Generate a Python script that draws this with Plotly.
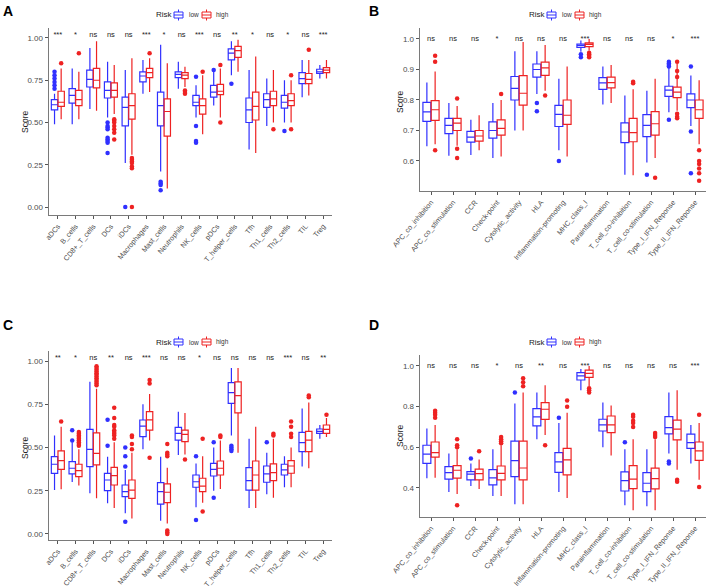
import plotly.graph_objects as go

# ---------------- data ----------------
# rows: (lower whisker, q1, median, q3, upper whisker)
cats_A = ["aDCs", "B_cells", "CD8+_T_cells", "DCs", "iDCs", "Macrophages", "Mast_cells",
          "Neutrophils", "NK_cells", "pDCs", "T_helper_cells", "Tfh", "Th1_cells",
          "Th2_cells", "TIL", "Treg"]
sig_A = ["***", "*", "ns", "ns", "ns", "***", "*", "ns", "***", "ns", "**", "*", "ns", "*", "ns", "***"]
A_low = [(0.49, 0.575, 0.605, 0.635, 0.67), (0.49, 0.615, 0.66, 0.70, 0.82),
         (0.58, 0.71, 0.755, 0.81, 0.94), (0.53, 0.645, 0.69, 0.74, 0.86),
         (0.26, 0.48, 0.59, 0.65, 0.81), (0.67, 0.74, 0.775, 0.80, 0.87),
         (0.21, 0.48, 0.60, 0.68, 0.96), (0.70, 0.765, 0.785, 0.80, 0.86),
         (0.53, 0.60, 0.62, 0.66, 0.72), (0.60, 0.65, 0.68, 0.72, 0.80),
         (0.78, 0.87, 0.91, 0.935, 0.98), (0.34, 0.50, 0.575, 0.645, 0.81),
         (0.48, 0.59, 0.635, 0.67, 0.76), (0.50, 0.585, 0.62, 0.66, 0.75),
         (0.65, 0.73, 0.76, 0.795, 0.87), (0.76, 0.79, 0.80, 0.815, 0.84)]
A_high = [(0.52, 0.595, 0.62, 0.685, 0.82), (0.52, 0.60, 0.635, 0.69, 0.80),
          (0.57, 0.705, 0.75, 0.82, 0.98), (0.55, 0.65, 0.69, 0.735, 0.84),
          (0.31, 0.52, 0.60, 0.67, 0.88), (0.68, 0.765, 0.795, 0.82, 0.88),
          (0.11, 0.42, 0.565, 0.64, 0.85), (0.71, 0.76, 0.78, 0.795, 0.83),
          (0.43, 0.55, 0.60, 0.64, 0.78), (0.53, 0.665, 0.685, 0.725, 0.82),
          (0.80, 0.885, 0.925, 0.95, 0.99), (0.32, 0.515, 0.595, 0.68, 0.89),
          (0.50, 0.60, 0.64, 0.685, 0.81), (0.50, 0.60, 0.63, 0.67, 0.75),
          (0.66, 0.73, 0.755, 0.79, 0.87), (0.76, 0.795, 0.81, 0.825, 0.87)]
A_low_out = [[0.70, 0.72, 0.74, 0.76, 0.78, 0.80], [], [],
             [0.50, 0.48, 0.47, 0.46, 0.41, 0.40, 0.39, 0.38, 0.32],
             [0.0], [], [0.15, 0.14, 0.13, 0.10], [], [0.77, 0.48, 0.39, 0.38],
             [0.81], [0.73], [], [], [0.45], [], []]
A_high_out = [[0.85], [0.91], [], [0.52, 0.51, 0.50, 0.48, 0.46, 0.44, 0.40],
              [0.29, 0.28, 0.27, 0.26, 0.24, 0.23, 0.0], [0.91], [], [0.69, 0.68, 0.67],
              [0.80], [0.84, 0.50], [], [], [0.46], [0.78, 0.46], [0.93], []]

cats_B = ["APC_co_inhibition", "APC_co_stimulation", "CCR", "Check-point",
          "Cytolytic_activity", "HLA", "Inflammation-promoting", "MHC_class_I",
          "Parainflammation", "T_cell_co-inhibition", "T_cell_co-stimulation",
          "Type_I_IFN_Reponse", "Type_II_IFN_Reponse"]
sig_B = ["ns", "ns", "ns", "*", "ns", "ns", "ns", "***", "ns", "ns", "ns", "*", "***"]
B_low = [(0.648, 0.73, 0.761, 0.792, 0.857), (0.617, 0.69, 0.717, 0.74, 0.79),
         (0.62, 0.662, 0.678, 0.697, 0.735), (0.61, 0.675, 0.70, 0.728, 0.79),
         (0.70, 0.80, 0.838, 0.877, 0.96), (0.82, 0.875, 0.90, 0.918, 0.96),
         (0.635, 0.713, 0.753, 0.782, 0.87), (0.958, 0.972, 0.978, 0.983, 0.995),
         (0.785, 0.835, 0.856, 0.873, 0.91), (0.555, 0.66, 0.695, 0.725, 0.815),
         (0.595, 0.68, 0.717, 0.752, 0.83), (0.76, 0.812, 0.832, 0.845, 0.905),
         (0.715, 0.775, 0.80, 0.82, 0.88)]
B_high = [(0.655, 0.733, 0.768, 0.798, 0.893), (0.65, 0.70, 0.724, 0.74, 0.78),
          (0.635, 0.665, 0.682, 0.70, 0.75), (0.615, 0.685, 0.707, 0.735, 0.80),
          (0.70, 0.783, 0.822, 0.88, 0.99), (0.83, 0.881, 0.905, 0.924, 0.98),
          (0.615, 0.72, 0.75, 0.80, 0.91), (0.962, 0.975, 0.982, 0.987, 1.0),
          (0.79, 0.84, 0.857, 0.875, 0.915), (0.553, 0.663, 0.693, 0.74, 0.835),
          (0.61, 0.685, 0.722, 0.762, 0.87), (0.765, 0.808, 0.826, 0.842, 0.92),
          (0.655, 0.74, 0.768, 0.80, 0.865)]
B_low_out = [[], [], [], [], [], [0.79, 0.763], [0.60], [0.95, 0.94], [], [],
             [0.555], [0.925, 0.92, 0.915, 0.91, 0.735], [0.91, 0.697, 0.56]]
B_high_out = [[0.945, 0.925, 0.635], [0.805, 0.64, 0.61], [], [0.82], [], [0.815], [],
              [0.955, 0.95, 0.945, 0.94], [], [0.86, 0.855], [0.545],
              [0.925, 0.895, 0.875, 0.755, 0.745, 0.74],
              [0.635, 0.60, 0.59, 0.575, 0.56, 0.535]]

cats_C = cats_A
sig_C = ["**", "*", "ns", "**", "ns", "***", "ns", "ns", "*", "ns", "ns", "ns", "ns", "***", "ns", "**"]
C_low = [(0.254, 0.35, 0.403, 0.447, 0.57), (0.30, 0.347, 0.38, 0.418, 0.53),
         (0.235, 0.389, 0.489, 0.605, 0.88), (0.177, 0.25, 0.312, 0.35, 0.447),
         (0.12, 0.216, 0.245, 0.283, 0.37), (0.49, 0.563, 0.624, 0.659, 0.75),
         (0.077, 0.173, 0.245, 0.297, 0.447), (0.457, 0.543, 0.582, 0.616, 0.707),
         (0.154, 0.27, 0.302, 0.341, 0.408), (0.25, 0.335, 0.374, 0.408, 0.50),
         (0.57, 0.755, 0.817, 0.875, 0.96), (0.15, 0.254, 0.308, 0.383, 0.55),
         (0.23, 0.299, 0.347, 0.393, 0.47), (0.27, 0.341, 0.37, 0.403, 0.45),
         (0.39, 0.476, 0.528, 0.587, 0.726), (0.55, 0.582, 0.593, 0.607, 0.63)]
C_high = [(0.258, 0.374, 0.424, 0.48, 0.62), (0.28, 0.331, 0.366, 0.403, 0.49),
          (0.206, 0.399, 0.466, 0.585, 0.84), (0.15, 0.283, 0.337, 0.385, 0.53),
          (0.09, 0.206, 0.254, 0.312, 0.47), (0.54, 0.60, 0.66, 0.707, 0.81),
          (0.06, 0.181, 0.241, 0.289, 0.383), (0.46, 0.534, 0.576, 0.60, 0.70),
          (0.18, 0.245, 0.277, 0.322, 0.45), (0.26, 0.341, 0.38, 0.422, 0.54),
          (0.47, 0.70, 0.80, 0.88, 0.96), (0.15, 0.254, 0.341, 0.422, 0.62),
          (0.21, 0.308, 0.355, 0.405, 0.55), (0.27, 0.351, 0.393, 0.424, 0.50),
          (0.38, 0.476, 0.543, 0.593, 0.76), (0.56, 0.582, 0.605, 0.63, 0.67)]
C_low_out = [[], [0.60, 0.54], [], [0.51, 0.66], [0.50, 0.45, 0.39, 0.07], [], [], [],
             [0.45, 0.08], [0.53, 0.21], [0.51, 0.50, 0.49, 0.48], [], [0.53], [], [], []]
C_high_out = [[0.65], [0.59, 0.58, 0.57, 0.56, 0.55, 0.54, 0.53, 0.52, 0.51],
              [0.97, 0.96, 0.95, 0.94, 0.93, 0.92, 0.91, 0.90, 0.89, 0.88, 0.87, 0.86],
              [0.73, 0.67, 0.63, 0.62, 0.60, 0.59, 0.58, 0.57, 0.55],
              [0.57, 0.56, 0.52, 0.49], [0.89, 0.87, 0.44],
              [0.52, 0.47, 0.46, 0.45, 0.02, 0.01, 0.0], [0.43], [0.55, 0.13],
              [0.57, 0.56], [], [], [0.58, 0.57], [0.65, 0.62, 0.58, 0.56], [0.80, 0.79], [0.69]]

cats_D = cats_B
sig_D = ["ns", "ns", "ns", "*", "ns", "**", "ns", "***", "ns", "ns", "ns", "ns", "***"]
D_low = [(0.448, 0.521, 0.566, 0.61, 0.693), (0.38, 0.443, 0.475, 0.505, 0.57),
         (0.41, 0.44, 0.468, 0.48, 0.52), (0.36, 0.415, 0.449, 0.49, 0.59),
         (0.32, 0.456, 0.534, 0.63, 0.816), (0.64, 0.705, 0.75, 0.79, 0.87),
         (0.38, 0.477, 0.528, 0.574, 0.72), (0.88, 0.931, 0.951, 0.967, 0.985),
         (0.60, 0.68, 0.71, 0.738, 0.82), (0.315, 0.385, 0.436, 0.479, 0.59),
         (0.31, 0.382, 0.423, 0.475, 0.59), (0.57, 0.666, 0.697, 0.751, 0.87),
         (0.52, 0.595, 0.623, 0.665, 0.71)]
D_high = [(0.45, 0.552, 0.574, 0.626, 0.71), (0.37, 0.448, 0.487, 0.51, 0.59),
          (0.395, 0.44, 0.47, 0.493, 0.54), (0.36, 0.44, 0.472, 0.508, 0.61),
          (0.32, 0.44, 0.498, 0.63, 0.87), (0.66, 0.737, 0.787, 0.82, 0.905),
          (0.35, 0.464, 0.538, 0.595, 0.77), (0.90, 0.944, 0.964, 0.98, 1.0),
          (0.56, 0.672, 0.71, 0.754, 0.805), (0.29, 0.397, 0.443, 0.51, 0.64),
          (0.29, 0.395, 0.446, 0.497, 0.64), (0.49, 0.636, 0.689, 0.734, 0.88),
          (0.44, 0.536, 0.582, 0.626, 0.72)]
D_low_out = [[], [], [0.545], [], [0.87], [], [0.745], [], [], [0.625], [], [0.53, 0.52], []]
D_high_out = [[0.78, 0.77, 0.76, 0.745], [0.64, 0.61, 0.60, 0.315], [0.58],
              [0.65, 0.64, 0.63, 0.62], [0.94, 0.92, 0.90], [0.61], [0.83, 0.80],
              [0.89, 0.88, 0.87], [], [0.76, 0.75, 0.73, 0.72, 0.70], [0.67, 0.66, 0.65],
              [0.44, 0.43], [0.76, 0.405]]

legend_title = "Risk"
groups = ["low", "high"]
y_title = "Score"

# ---------------- style ----------------
LOW_C = "#3030FF"
HIGH_C = "#EE2222"
COLORS = [LOW_C, HIGH_C]
FONT = "Liberation Sans, Arial, sans-serif"
W, H = 708, 588
DODGE = 0.1875
BOXW = 0.36

fig = go.Figure()


def add_panel(ax, cats, sig, low, high, low_out, high_out, ysig):
    xa = "x" if ax == 1 else f"x{ax}"
    ya = "y" if ax == 1 else f"y{ax}"
    n = len(cats)
    for rows, outs, col, name, off in ((low, low_out, LOW_C, groups[0], -DODGE),
                                       (high, high_out, HIGH_C, groups[1], DODGE)):
        fig.add_trace(go.Box(
            x=[i + off for i in range(n)],
            lowerfence=[r[0] for r in rows], q1=[r[1] for r in rows],
            median=[r[2] for r in rows], q3=[r[3] for r in rows],
            upperfence=[r[4] for r in rows],
            width=BOXW, whiskerwidth=0, boxpoints=False,
            line=dict(color=col, width=1.2), fillcolor="rgba(255,255,255,0)",
            name=name, xaxis=xa, yaxis=ya, showlegend=False, hoverinfo="skip"))
        ox, oy = [], []
        for i, vals in enumerate(outs):
            for v in vals:
                ox.append(i + off)
                oy.append(v)
        fig.add_trace(go.Scatter(
            x=ox, y=oy, mode="markers", marker=dict(color=col, size=4.5),
            showlegend=False, xaxis=xa, yaxis=ya, hoverinfo="skip"))
    fig.add_trace(go.Scatter(
        x=list(range(n)), y=[ysig] * n, mode="text", text=sig,
        textfont=dict(size=7.5, color="#222222", family=FONT),
        showlegend=False, xaxis=xa, yaxis=ya, cliponaxis=False, hoverinfo="skip"))


add_panel(1, cats_A, sig_A, A_low, A_high, A_low_out, A_high_out, 1.015)
add_panel(2, cats_B, sig_B, B_low, B_high, B_low_out, B_high_out, 1.0)
add_panel(3, cats_C, sig_C, C_low, C_high, C_low_out, C_high_out, 1.015)
add_panel(4, cats_D, sig_D, D_low, D_high, D_low_out, D_high_out, 1.0)


def xaxis(cats, x0, x1, anchor):
    return dict(domain=[x0 / W, x1 / W], anchor=anchor, range=[-0.5, len(cats) - 0.5],
                tickmode="array", tickvals=list(range(len(cats))), ticktext=cats,
                tickangle=-50, showline=True, linecolor="#7a7a7a", linewidth=1.4,
                ticks="outside", ticklen=3, tickcolor="#555555", showgrid=False,
                zeroline=False, automargin=False,
                tickfont=dict(size=7.2, color="#4d4d4d", family=FONT))


def yaxis(y_top_px, y_bot_px, rng, tv, fmt, anchor):
    return dict(domain=[1 - y_bot_px / H, 1 - y_top_px / H], anchor=anchor, range=rng,
                tickmode="array", tickvals=tv, tickformat=fmt,
                showline=True, linecolor="#7a7a7a", linewidth=1.4,
                ticks="outside", ticklen=3, tickcolor="#555555", showgrid=False,
                zeroline=False, automargin=False,
                tickfont=dict(size=8, color="#4d4d4d", family=FONT))


fig.update_layout(
    template="none",
    width=W, height=H, margin=dict(l=0, r=0, t=0, b=0, autoexpand=False),
    paper_bgcolor="white", plot_bgcolor="white",
    font=dict(family=FONT, color="#333333"),
    boxmode="overlay", showlegend=False,
    xaxis=xaxis(cats_A, 49, 332, "y"),
    yaxis=yaxis(28, 215, [-0.047, 1.059], [0, 0.25, 0.5, 0.75, 1.0], ".2f", "x"),
    xaxis2=xaxis(cats_B, 420, 706, "y2"),
    yaxis2=yaxis(28, 191, [0.5016, 1.036], [0.6, 0.7, 0.8, 0.9, 1.0], ".1f", "x2"),
    xaxis3=xaxis(cats_C, 49, 332, "y3"),
    yaxis3=yaxis(351, 540, [-0.035, 1.058], [0, 0.25, 0.5, 0.75, 1.0], ".2f", "x3"),
    xaxis4=xaxis(cats_D, 420, 706, "y4"),
    yaxis4=yaxis(355, 517, [0.257, 1.054], [0.4, 0.6, 0.8, 1.0], ".1f", "x4"),
)


def px(x):
    return x / W


def py(y):
    return 1 - y / H


# y-axis titles
for tx, ty in ((25, 122), (400, 102), (25, 448), (400, 436)):
    fig.add_annotation(text=y_title, x=px(tx), y=py(ty), xref="paper", yref="paper",
                       textangle=-90, showarrow=False, xanchor="center", yanchor="middle",
                       font=dict(size=8.5, color="#222222", family=FONT))

# legends (drawn per panel, centred above each plot area)
for cx, cy in ((190.5, 15), (563.5, 15), (190.5, 342), (563.5, 342)):
    fig.add_annotation(text=legend_title, x=px(cx - 37), y=py(cy), xref="paper", yref="paper",
                       xanchor="left", yanchor="middle", showarrow=False,
                       font=dict(size=8, color="#222222", family=FONT))
    for k, (icx, tx) in enumerate(((cx - 12, cx - 4), (cx + 16, cx + 23))):
        col = COLORS[k]
        fig.add_shape(type="rect", xref="paper", yref="paper",
                      x0=px(icx - 4.5), x1=px(icx + 4.5), y0=py(cy - 3), y1=py(cy + 3),
                      line=dict(color=col, width=1), fillcolor="white")
        fig.add_shape(type="line", xref="paper", yref="paper",
                      x0=px(icx - 4.5), x1=px(icx + 4.5), y0=py(cy), y1=py(cy),
                      line=dict(color=col, width=1))
        fig.add_shape(type="line", xref="paper", yref="paper",
                      x0=px(icx), x1=px(icx), y0=py(cy - 5.5), y1=py(cy - 3),
                      line=dict(color=col, width=1))
        fig.add_shape(type="line", xref="paper", yref="paper",
                      x0=px(icx), x1=px(icx), y0=py(cy + 3), y1=py(cy + 5.5),
                      line=dict(color=col, width=1))
        fig.add_annotation(text=groups[k], x=px(tx), y=py(cy), xref="paper", yref="paper",
                           xanchor="left", yanchor="middle", showarrow=False,
                           font=dict(size=6.5, color="#333333", family=FONT))

for txt, lx, ly in (("A", 1, 1), ("B", 367, 1), ("C", 1, 315), ("D", 367, 315)):
    fig.add_annotation(text=f"<b>{txt}</b>", x=px(lx), y=py(ly), xref="paper",
                       yref="paper", xanchor="left", yanchor="top", showarrow=False,
                       font=dict(size=14, color="black", family=FONT))

fig.write_html("out.html", config={"displayModeBar": False, "staticPlot": True},
               post_script="document.body.style.margin='0';"
               "document.body.style.overflow='hidden';")
